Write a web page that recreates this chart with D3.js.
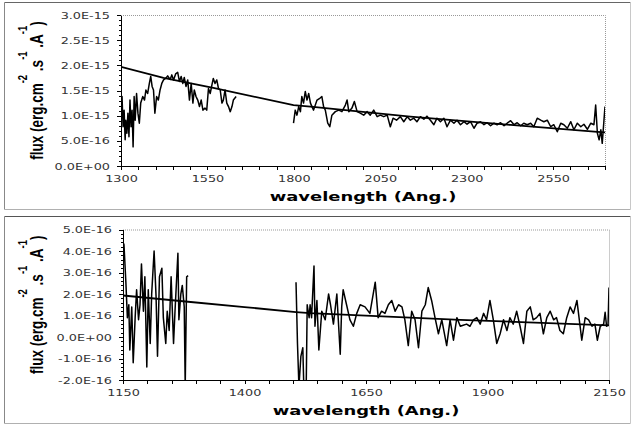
<!DOCTYPE html>
<html lang="en">
<head>
<meta charset="UTF-8">
<title>UV flux spectra</title>
<script src="https://d3js.org/d3.v7.min.js"></script>
<style>
  body { margin: 0; background: #fff; }
  .tick text { font-family: "DejaVu Sans", sans-serif; font-size: 9.5px; fill: #333; }
  .axis path, .axis line { stroke: #000; shape-rendering: crispEdges; }
  .spec { fill: none; stroke: #000; stroke-width: 1.5; stroke-linejoin: round; }
  .fit { fill: none; stroke: #000; stroke-width: 1.8; }
</style>
</head>
<body>
<svg width="631" height="425"></svg>
<script>
// ---- top spectrum, flux in 1e-15 erg/cm2/s/A ----
var topSeg1 = [[1300,1.38],[1303,1.38],[1306,0.78],[1309,1.11],[1312,0.52],[1314,0.91],[1317,0.65],[1320,1.05],
  [1323,0.58],[1326,1.31],[1329,0.78],[1332,1.11],[1335,0.38],[1338,1.38],[1341,0.91],[1345,1.44],[1349,1.05],
  [1353,0.85],[1357,1.25],[1363,1.38],[1368,1.31],[1372,1.51],[1377,1.44],[1382,1.64],[1386,1.78],[1390,1.58],
  [1394,1.51],[1398,1.05],[1403,1.38],[1408,1.31],[1413,1.51],[1418,1.64],[1423,1.71],[1429,1.74],[1435,1.79],
  [1442,1.72],[1447,1.81],[1452,1.71],[1458,1.83],[1464,1.86],[1469,1.68],[1474,1.78],[1479,1.64],[1483,1.76],
  [1488,1.58],[1493,1.71],[1498,1.31],[1503,1.64],[1508,1.25],[1512,1.51],[1517,1.38],[1522,1.31],[1527,1.18],
  [1532,1.31],[1537,1.11],[1543,1.15],[1548,1.11],[1553,1.54],[1558,1.44],[1563,1.61],[1567,1.74],[1572,1.64],
  [1577,1.71],[1582,1.54],[1587,1.51],[1592,1.25],[1596,1.31],[1601,1.51],[1606,1.25],[1611,1.18],[1616,1.08],
  [1621,1.18],[1625,1.31],[1633,1.38]];
var topSeg2 = [[1799,0.85],[1804,1.11],[1809,1.01],[1814,1.18],[1819,1.08],[1823,1.38],[1828,1.25],[1833,1.48],
  [1838,1.31],[1843,1.44],[1848,1.25],[1857,1.11],[1867,1.31],[1876,1.35],[1881,1.38],[1886,1.18],[1891,1.11],
  [1898,0.85],[1904,0.78],[1910,1.01],[1920,1.08],[1930,1.11],[1939,1.08],[1949,1.21],[1954,1.31],[1959,1.08],
  [1968,1.15],[1975,1.28],[1983,1.08],[1992,1.05],[2002,1.01],[2012,1.08],[2021,1.01],[2031,1.11],[2041,0.98],
  [2050,1.01],[2060,0.98],[2070,1.01],[2079,0.78],[2087,0.95],[2097,0.91],[2108,0.98],[2118,0.88],[2128,0.98],
  [2137,0.91],[2147,0.95],[2156,0.88],[2166,0.98],[2176,0.93],[2185,0.99],[2195,0.91],[2205,0.82],[2214,0.95],
  [2224,0.88],[2234,0.95],[2243,0.78],[2253,0.91],[2263,0.85],[2272,0.91],[2282,0.82],[2292,0.88],[2301,0.83],
  [2311,0.88],[2321,0.75],[2330,0.85],[2340,0.88],[2350,0.82],[2359,0.86],[2369,0.80],[2379,0.85],[2388,0.82],
  [2398,0.86],[2408,0.80],[2417,0.85],[2427,0.90],[2437,0.82],[2446,0.86],[2456,0.80],[2465,0.85],[2475,0.82],
  [2485,0.85],[2494,0.78],[2504,0.95],[2514,0.91],[2523,0.88],[2533,0.91],[2543,0.78],[2552,0.82],[2562,0.68],
  [2572,0.85],[2581,0.82],[2591,0.75],[2601,0.88],[2610,0.72],[2620,0.85],[2630,0.78],[2639,0.83],[2649,0.73],
  [2659,0.85],[2668,0.82],[2673,1.21],[2678,0.65],[2683,0.52],[2688,0.72],[2692,0.45],[2697,0.91],[2700,1.18]];
var topFit = [[1300,1.97],[1423,1.75],[1567,1.55],[1799,1.21],[1848,1.18],[2137,0.98],[2427,0.815],[2678,0.68],[2700,0.67]];
var topXTicks = [1300, 1550, 1800, 2050, 2300, 2550];
var topYTicks = [0, 0.5, 1.0, 1.5, 2.0, 2.5, 3.0];

// ---- bottom spectrum, flux in 1e-16 erg/cm2/s/A ----
var lowSeg1 = [[1150,4.4],[1152,4.3],[1156,2.5],[1159,0.9],[1162,1.5],[1164,-0.6],[1168,1.4],[1171,-1.2],[1175,0.9],
  [1178,2.2],[1182,0.8],[1185,1.5],[1188,3.4],[1192,1.2],[1195,2.8],[1199,-1.4],[1202,2.2],[1206,-0.3],[1209,2.0],
  [1214,4.0],[1218,1.9],[1221,-0.9],[1225,2.8],[1230,3.2],[1233,0.9],[1238,-0.3],[1241,1.2],[1245,0.3],[1249,2.8],
  [1254,-0.3],[1257,1.2],[1263,3.9],[1265,0.8],[1269,2.0],[1272,2.4],[1276,1.4],[1278,-2.3],[1281,2.8],[1284,2.85]];
var lowSeg2 = [[1506,2.55],[1509,-0.3],[1512,-2.3],[1516,-0.9],[1520,-0.5],[1522,-2.3],[1527,-2.3],[1529,1.5],
  [1533,0.9],[1535,1.5],[1538,0.9],[1543,3.3],[1545,0.5],[1549,1.7],[1553,-0.6],[1559,1.2],[1566,0.8],[1573,2.0],
  [1577,1.5],[1583,0.6],[1590,2.0],[1597,-0.8],[1600,1.4],[1603,2.2],[1610,1.5],[1617,0.8],[1624,0.5],[1631,1.1],
  [1638,1.5],[1648,1.4],[1658,1.1],[1669,2.55],[1675,0.9],[1682,1.2],[1689,1.1],[1696,1.5],[1703,1.7],[1710,1.2],
  [1717,1.5],[1724,1.4],[1730,0.8],[1737,-0.4],[1744,1.2],[1751,0.8],[1758,-0.5],[1765,1.2],[1772,1.5],[1778,2.3],
  [1785,1.7],[1792,0.9],[1799,0.15],[1806,0.8],[1816,-0.4],[1823,0.8],[1830,-0.15],[1837,0.9],[1844,0.5],
  [1850,0.55],[1857,0.6],[1864,0.5],[1871,0.8],[1878,0.9],[1885,0.6],[1892,1.1],[1898,0.8],[1905,1.7],[1912,0.8],
  [1919,-0.3],[1926,0.15],[1933,0.8],[1940,0.3],[1946,0.9],[1953,0.6],[1960,1.2],[1967,0.5],[1974,-0.3],[1981,1.2],
  [1988,1.4],[1994,0.8],[2001,0.9],[2008,1.1],[2015,0.15],[2022,0.9],[2029,1.2],[2036,0.8],[2042,0.9],[2049,0.3],
  [2056,0.15],[2063,0.9],[2070,1.4],[2077,1.1],[2084,1.7],[2090,0.6],[2094,-0.15],[2101,0.9],[2108,0.8],
  [2115,0.5],[2121,0.6],[2126,-0.15],[2132,0.5],[2139,0.6],[2142,1.15],[2145,0.5],[2148,0.55],[2150,2.3]];
var lowFit = [[1150,1.93],[1284,1.64],[1400,1.39],[1506,1.16],[1535,1.11],[1844,0.80],[2150,0.54]];
var lowXTicks = [1150, 1400, 1650, 1900, 2150];
var lowYTicks = [-2, -1, 0, 1, 2, 3, 4, 5];

var svg = d3.select("svg");
var sx = 1.35; // the picture is stretched sideways

function sci(v) {
    var s = v.toExponential(1).toUpperCase();
    return s.replace(/E([+-])(\d+)$/, function(m, sign, e) { return "E" + sign + (e.length < 2 ? "0" + e : e); });
}

function frame(y0, y1, topColor) {
    svg.append("line").attr("x1", 4.5).attr("x2", 630.5).attr("y1", y0).attr("y2", y0).attr("stroke", topColor);
    svg.append("line").attr("x1", 4.5).attr("x2", 4.5).attr("y1", y0).attr("y2", y1).attr("stroke", "#888");
    svg.append("line").attr("x1", 4.5).attr("x2", 630.5).attr("y1", y1).attr("y2", y1).attr("stroke", "#b0b0b0");
    svg.append("line").attr("x1", 630.5).attr("x2", 630.5).attr("y1", y0).attr("y2", y1).attr("stroke", "#c8c8c8");
}

function panel(p) {
    var x = d3.scaleLinear().domain(p.xDomain).range([p.left, p.right]);
    var y = d3.scaleLinear().domain(p.yDomain).range([p.bottom, p.top]);
    var id = "clip" + p.name;

    svg.append("clipPath").attr("id", id).append("rect")
        .attr("x", p.left).attr("y", p.top)
        .attr("width", p.right - p.left).attr("height", p.bottom - p.top);

    // dotted top and right edges of the plot area
    svg.append("path")
        .attr("d", "M" + p.left + "," + (p.top + 0.5) + "H" + (p.right + 0.5) + "V" + p.bottom)
        .attr("fill", "none").attr("stroke", "#999").attr("stroke-dasharray", "1,1");

    var line = d3.line().x(function(d) { return x(d[0]); }).y(function(d) { return y(d[1]); });
    var g = svg.append("g").attr("clip-path", "url(#" + id + ")");
    p.segs.forEach(function(s) {
        g.append("path").datum(s).attr("class", "spec").attr("d", line);
    });
    g.append("path").datum(p.fit).attr("class", "fit").attr("d", line);

    // minor ticks
    svg.append("g").attr("class", "axis")
        .attr("transform", "translate(0," + p.bottom + ")")
        .call(d3.axisBottom(x).tickValues(d3.range(p.xDomain[0], p.xDomain[1] + 1, 50)).tickSize(4).tickSizeOuter(0).tickFormat(""));
    svg.append("g").attr("class", "axis")
        .attr("transform", "translate(" + p.left + ",0)")
        .call(d3.axisLeft(y).tickValues(d3.range(p.yDomain[0], p.yDomain[1] + 0.001, p.yMinor)).tickSize(2.5).tickSizeOuter(0).tickFormat(""));

    // major ticks and labels
    var xa = svg.append("g").attr("class", "axis")
        .attr("transform", "translate(0," + p.bottom + ")")
        .call(d3.axisBottom(x).tickValues(p.xTicks).tickSize(4).tickSizeOuter(0).tickFormat(d3.format("d")));
    xa.selectAll("text").attr("y", 16.5).attr("dy", 0).attr("transform", "scale(" + sx + ",1)");

    var ya = svg.append("g").attr("class", "axis")
        .attr("transform", "translate(" + p.left + ",0)")
        .call(d3.axisLeft(y).tickValues(p.yTicks).tickSize(4.5).tickSizeOuter(0)
            .tickFormat(function(d) { return sci(d * p.unit); }));
    ya.selectAll("text").attr("x", -11 / sx).attr("transform", "scale(" + sx + ",1)");

    // axis titles
    svg.append("text")
        .attr("transform", "translate(" + ((p.left + p.right) / 2) + "," + (p.bottom + 34.5) + ") scale(1.38,1)")
        .attr("text-anchor", "middle")
        .attr("font-family", "DejaVu Sans, sans-serif").attr("font-weight", "bold").attr("font-size", 13)
        .text("wavelength (Ang.)");

    var yt = svg.append("text")
        .attr("transform", "translate(42.5," + ((p.top + p.bottom) / 2) + ") rotate(-90) scale(1,1.38)")
        .attr("text-anchor", "middle")
        .attr("font-family", "Liberation Sans, Arial, sans-serif").attr("font-weight", "bold").attr("font-size", 13.5);
    yt.append("tspan").text("flux (erg.cm");
    yt.append("tspan").attr("dy", -11).attr("font-size", 9.5).text("-2");
    yt.append("tspan").attr("dy", 11).text(" .s");
    yt.append("tspan").attr("dy", -11).attr("font-size", 9.5).text("-1");
    yt.append("tspan").attr("dy", 11).text(" .A");
    yt.append("tspan").attr("dy", -11).attr("font-size", 9.5).text("-1");
    yt.append("tspan").attr("dy", 11).text(")");
}

frame(2.5, 209.5, "#666");
frame(216.5, 423.5, "#555");

panel({ name: "top", left: 121, right: 605, top: 15, bottom: 166,
        xDomain: [1300, 2700], yDomain: [0, 3.0], unit: 1e-15, yMinor: 0.1,
        xTicks: topXTicks, yTicks: topYTicks, segs: [topSeg1, topSeg2], fit: topFit });

panel({ name: "low", left: 123, right: 609, top: 229.5, bottom: 380,
        xDomain: [1150, 2150], yDomain: [-2, 5], unit: 1e-16, yMinor: 0.2,
        xTicks: lowXTicks, yTicks: lowYTicks, segs: [lowSeg1, lowSeg2], fit: lowFit });
</script>
</body>
</html>
